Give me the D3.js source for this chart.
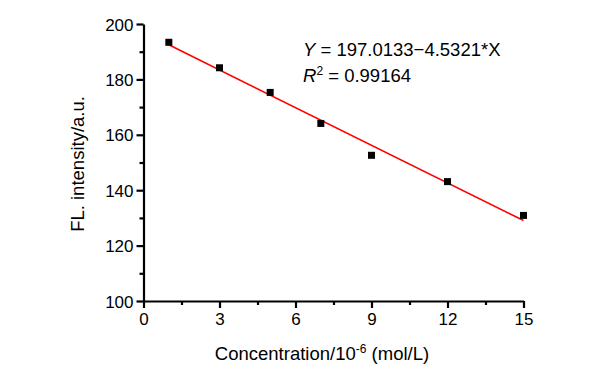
<!DOCTYPE html>
<html><head><meta charset="utf-8">
<script src="https://cdn.jsdelivr.net/npm/d3@7"></script>
<style>body{margin:0;background:#fff;} svg{display:block;} text{font-family:Arial,"Liberation Sans",sans-serif;fill:#000;}</style>
</head><body><svg id="c" width="597" height="365"></svg>
<script>
const concentrations = [1, 3, 5, 7, 9, 12, 15];
const intensities = [193.4, 184.2, 175.3, 164.1, 152.6, 143.1, 130.9];
const fitIntercept = 197.0133;
const fitSlope = -4.5321;
const xTicks = [0, 3, 6, 9, 12, 15];
const xMinorTicks = [1.5, 4.5, 7.5, 10.5, 13.5];
const yTicks = [100, 120, 140, 160, 180, 200];
const yMinorTicks = [110, 130, 150, 170, 190];
const eqLine1 = "197.0133\u22124.5321*X";
const eqLine2 = "0.99164";

const svg = d3.select("#c");
const x = d3.scaleLinear().domain([0, 15]).range([143.5, 523.5]);
const y = d3.scaleLinear().domain([100, 200]).range([301, 24]);

// minor ticks
const gx = svg.append("g").attr("transform", `translate(0,${y(100)})`);
gx.call(d3.axisBottom(x).tickValues(xMinorTicks).tickSize(4).tickFormat(""))
  .call(g => g.select(".domain").remove());
const gy = svg.append("g").attr("transform", `translate(${x(0)},0)`);
gy.call(d3.axisLeft(y).tickValues(yMinorTicks).tickSize(4).tickFormat(""))
  .call(g => g.select(".domain").remove());

// major axes
const ax = svg.append("g").attr("transform", `translate(0,${y(100)})`)
  .call(d3.axisBottom(x).tickValues(xTicks).tickSize(7).tickSizeOuter(0).tickPadding(3));
const ay = svg.append("g").attr("transform", `translate(${x(0)},0)`)
  .call(d3.axisLeft(y).tickValues(yTicks).tickSize(7).tickSizeOuter(0).tickPadding(3));
[ax, ay, gx, gy].forEach(g => {
  g.selectAll("path,line").attr("stroke", "#000").attr("stroke-width", 2.2);
  g.selectAll("text").attr("font-size", 17).attr("fill", "#000").attr("font-family", "Arial, 'Liberation Sans', sans-serif");
});
ay.selectAll("text").attr("dy", "0.36em");
ax.selectAll("text").attr("dy", "0.8em");

// fit line
const fx = d3.extent(concentrations);
svg.append("path")
  .datum(fx.map(v => [v, fitIntercept + fitSlope * v]))
  .attr("d", d3.line().x(d => x(d[0])).y(d => y(d[1])))
  .attr("stroke", "#ff0000").attr("stroke-width", 1.6).attr("fill", "none");

// points
svg.append("g").selectAll("rect").data(concentrations).join("rect")
  .attr("x", (d) => x(d) - 3.5)
  .attr("y", (d, i) => y(intensities[i]) - 3.5)
  .attr("width", 7).attr("height", 7).attr("fill", "#000");

// equation
const t1 = svg.append("text").attr("x", 303).attr("y", 56).attr("font-size", 18.5);
t1.append("tspan").attr("font-style", "italic").text("Y");
t1.append("tspan").text(" = " + eqLine1);
const t2 = svg.append("text").attr("x", 303).attr("y", 82).attr("font-size", 18.5);
t2.append("tspan").attr("font-style", "italic").text("R");
t2.append("tspan").attr("font-size", 12).attr("dy", -7).text("2");
t2.append("tspan").attr("dy", 7).text(" = " + eqLine2);

// axis titles
const xt = svg.append("text").attr("x", 322).attr("y", 360).attr("text-anchor", "middle").attr("font-size", 18.5);
xt.append("tspan").text("Concentration/10");
xt.append("tspan").attr("font-size", 12).attr("dy", -7).text("-6");
xt.append("tspan").attr("dy", 7).text(" (mol/L)");

svg.append("text").attr("transform", "translate(84,164) rotate(-90)")
  .attr("text-anchor", "middle").attr("font-size", 18.5).text("FL. intensity/a.u.");
</script></body></html>
